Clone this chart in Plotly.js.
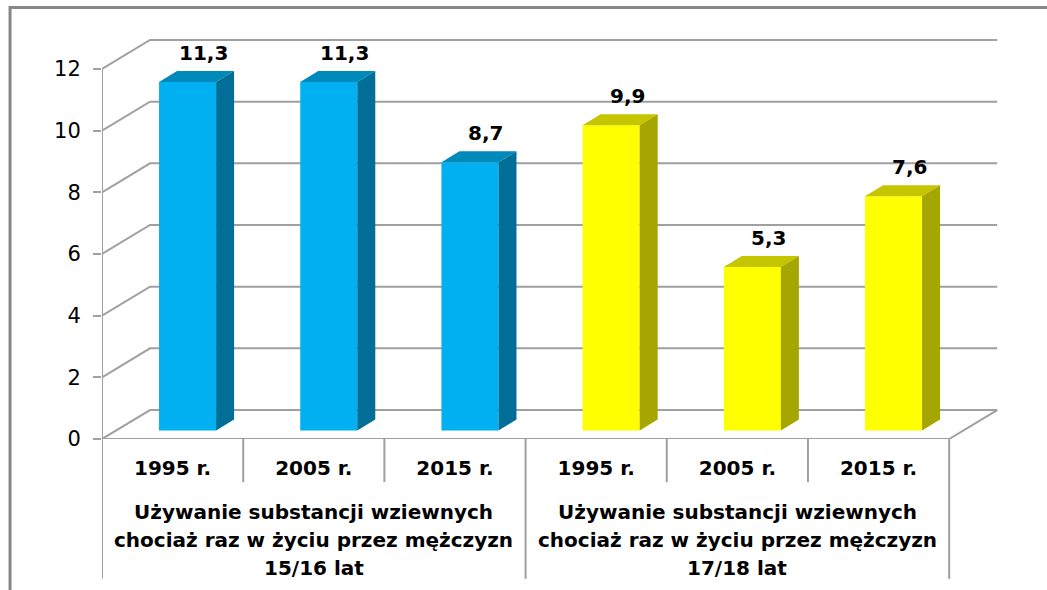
<!DOCTYPE html>
<html>
<head>
<meta charset="utf-8">
<script src="https://cdn.plot.ly/plotly-3.0.1.min.js"></script>
<style>body{margin:0;background:#fff}</style>
</head>
<body>
<div id="chart" style="width:1047px;height:590px"></div>
<script>
var years = ['1995 r.', '2005 r.', '2015 r.'];
var groupNames = [
  ['Używanie substancji wziewnych', 'chociaż raz w życiu przez mężczyzn', '15/16 lat'],
  ['Używanie substancji wziewnych', 'chociaż raz w życiu przez mężczyzn', '17/18 lat']
];
var values1516 = [11.3, 11.3, 8.7];
var values1718 = [9.9, 5.3, 7.6];
var yTicks = [0, 2, 4, 6, 8, 10, 12];

var colors = [
  {front: '#00B0F0', top: '#0089BB', side: '#006E96'},
  {front: '#FFFF00', top: '#C6C600', side: '#A6A600'}
];

// fake 3d box, all in axis units
var barOffset = -0.096, barWidth = 0.404;
var depthX = 0.1275, depthY = 0.357;  // bar depth
var wallX = 0.34, wallY = 0.94;       // back wall shift
var gridColor = '#A0A0A0';
var font = 'DejaVu Sans';

var series = [values1516, values1718];
var nCats = years.length * series.length;
var traces = [], shapes = [], annotations = [];

// walls and floor
yTicks.forEach(function(t) {
  shapes.push({type: 'path', xref: 'x', yref: 'y', layer: 'below', line: {color: gridColor, width: 2},
    path: 'M' + (-0.5) + ',' + t + ' L' + (-0.5 + wallX) + ',' + (t + wallY) +
          ' L' + (nCats - 0.5 + wallX) + ',' + (t + wallY)});
});
shapes.push({type: 'path', xref: 'x', yref: 'y', layer: 'below', line: {color: gridColor, width: 2},
  path: 'M-0.5,12 L-0.5,0 L' + (nCats - 0.5) + ',0 L' + (nCats - 0.5 + wallX) + ',' + wallY});

// dividers under the axis
for (var k = 0; k <= nCats; k++) {
  var isGroup = k % years.length == 0;
  shapes.push({type: 'line', xref: 'x', yref: 'paper', x0: k - 0.5, x1: k - 0.5,
    y0: 0, y1: isGroup ? -0.347 : -0.107, line: {color: gridColor, width: 2}});
}

series.forEach(function(vals, g) {
  var xs = vals.map(function(v, i) { return g * years.length + i; });
  traces.push({
    type: 'bar', x: xs, y: vals, yaxis: 'y2',
    offset: barOffset, width: barWidth,
    marker: {color: colors[g].front, line: {width: 0}},
    hoverinfo: 'skip', showlegend: false
  });
  vals.forEach(function(v, i) {
    var x0 = xs[i] + barOffset, x1 = x0 + barWidth;
    // top face
    shapes.push({type: 'path', xref: 'x', yref: 'y2', layer: 'above', line: {width: 0}, fillcolor: colors[g].top,
      path: 'M' + x0 + ',' + v + ' L' + x1 + ',' + v + ' L' + (x1 + depthX) + ',' + (v + depthY) +
            ' L' + (x0 + depthX) + ',' + (v + depthY) + ' Z'});
    // side face
    shapes.push({type: 'path', xref: 'x', yref: 'y2', layer: 'above', line: {width: 0}, fillcolor: colors[g].side,
      path: 'M' + x1 + ',0 L' + x1 + ',' + v + ' L' + (x1 + depthX) + ',' + (v + depthY) +
            ' L' + (x1 + depthX) + ',' + depthY + ' Z'});
    annotations.push({xref: 'x', yref: 'y2', x: x0 + barWidth / 2, y: v, xshift: 16, yshift: 29,
      text: v.toFixed(1).replace('.', ','), showarrow: false,
      font: {family: font, size: 20, color: '#000', weight: 'bold'}});
  });
  // group label, one annotation per line
  var lineY = [-0.181, -0.251, -0.320];
  groupNames[g].forEach(function(line, j) {
    annotations.push({xref: 'x', yref: 'paper', x: g * years.length + (years.length - 1) / 2, y: lineY[j],
      yanchor: 'middle', text: line, showarrow: false,
      font: {family: font, size: 20, color: '#000', weight: 'bold'}});
  });
});

// outer frame (only top and left edge are in the picture)
shapes.push({type: 'rect', xref: 'paper', yref: 'paper', x0: -0.1024, x1: 1.2, y0: -0.6, y1: 1.0707,
  line: {color: '#878787', width: 3}, fillcolor: 'rgba(0,0,0,0)'});

var tickText = [];
series.forEach(function() { tickText = tickText.concat(years); });

var layout = {
  width: 1047, height: 590,
  margin: {l: 102, r: 47, t: 36, b: 151},
  paper_bgcolor: '#fff', plot_bgcolor: '#fff',
  barmode: 'overlay',
  xaxis: {
    range: [-0.5, 5.86], tickvals: tickText.map(function(d, i) { return i; }), ticktext: tickText,
    showgrid: false, zeroline: false, showline: false, ticks: '',
    ticklabelstandoff: 15,
    tickfont: {family: font, size: 20, color: '#000', weight: 'bold'}
  },
  yaxis: {
    range: [0, 13.07], tickvals: yTicks,
    showgrid: false, zeroline: false, showline: false,
    ticks: 'outside', ticklen: 8, tickwidth: 2, tickcolor: gridColor,
    ticklabelstandoff: 8,
    tickfont: {family: font, size: 21, color: '#000'}
  },
  yaxis2: {overlaying: 'y', range: [-0.276, 12.794], visible: false},
  shapes: shapes,
  annotations: annotations
};

Plotly.newPlot('chart', traces, layout, {staticPlot: true, displayModeBar: false});
</script>
</body>
</html>
